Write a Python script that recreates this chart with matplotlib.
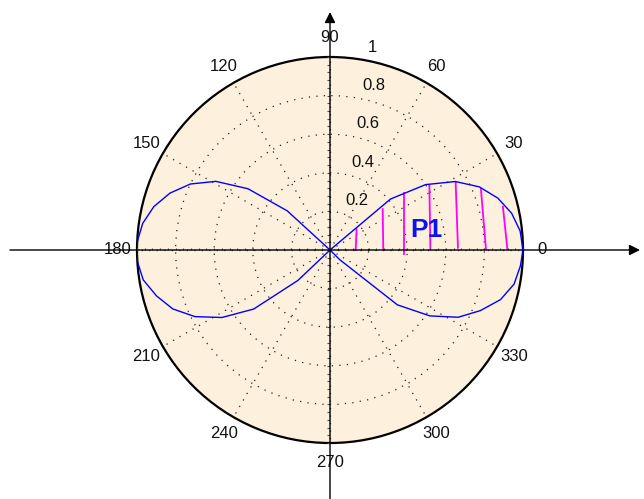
import numpy as np
import matplotlib
matplotlib.use('Agg')
import matplotlib.pyplot as plt
from matplotlib.transforms import offset_copy

plt.rcParams['font.family'] = ['Liberation Sans', 'DejaVu Sans']

# ---- data -------------------------------------------------------------
theta_rad = [0.0, 0.1, 0.2, 0.3, 0.4, 0.5, 0.6, 0.7, 0.8, 0.9,
             1.0, 1.1, 1.2, 1.3, 1.4, 1.5, 1.6, 1.7, 1.8, 1.9,
             2.0, 2.1, 2.2, 2.3, 2.4, 2.5, 2.6, 2.7, 2.8, 2.9,
             3.0, 3.1, 3.2, 3.3, 3.4, 3.5, 3.6, 3.7, 3.8, 3.9,
             4.0, 4.1, 4.2, 4.3, 4.4, 4.5, 4.6, 4.7, 4.8, 4.9,
             5.0, 5.1, 5.2, 5.3, 5.4, 5.5, 5.6, 5.7, 5.8, 5.9,
             6.0, 6.1, 6.2]
r_vals = [1.00, 0.99, 0.96, 0.91, 0.84, 0.74, 0.60, 0.41,
          0, 0, 0, 0, 0, 0, 0, 0, 0, 0, 0, 0, 0, 0, 0, 0,
          0.30, 0.53, 0.69, 0.80, 0.88, 0.94, 0.98, 1.00,
          1.00, 0.98, 0.93, 0.87, 0.78, 0.66, 0.50, 0.23,
          0, 0, 0, 0, 0, 0, 0, 0, 0, 0, 0, 0, 0, 0, 0,
          0.07, 0.45, 0.62, 0.75, 0.84, 0.92, 0.97, 0.99]

# hatch segments of region P1 (cartesian, in units of the outer radius)
hatch_x_top = [0.138, 0.273, 0.385, 0.515, 0.651, 0.782, 0.896]
hatch_y_top = [0.107, 0.212, 0.294, 0.333, 0.351, 0.316, 0.224]
hatch_x_bot = [0.133, 0.276, 0.385, 0.520, 0.663, 0.808, 0.919]
hatch_y_bot = [0.000, 0.005, -0.022, 0.005, 0.012, 0.005, 0.005]

angle_ticks = [0, 30, 60, 90, 120, 150, 180, 210, 240, 270, 300, 330]
radial_ticks = [0.2, 0.4, 0.6, 0.8, 1.0]
radial_labels = ['0.2', '0.4', '0.6', '0.8', '1']
region_label = 'P1'

# ---- figure -----------------------------------------------------------
W, H = 644, 499
fig = plt.figure(figsize=(W / 100, H / 100), dpi=100)
fig.patch.set_facecolor('white')

cx, cy, R = 330, 249, 193
ax = fig.add_axes([(cx - R) / W, (cy - R) / H, 2 * R / W, 2 * R / H],
                  projection='polar')
ax.set_facecolor('#fdf0dc')
ax.set_ylim(0, 1)
ax.set_rgrids(radial_ticks[:-1], labels=[''] * 4)
ax.set_thetagrids(angle_ticks, labels=[''] * len(angle_ticks))
ax.grid(True, color='#222222', linestyle=(0, (1, 5)), linewidth=0.9)
ax.spines['polar'].set_linewidth(1.6)
ax.spines['polar'].set_color('black')
ax.tick_params(axis='both', length=0, pad=0)

# curve (closed)
th = np.array(theta_rad + [theta_rad[0]])
rr = np.array(r_vals + [r_vals[0]])
ax.plot(th, rr, color='#0000ff', linewidth=1.0, zorder=4)

# hatch lines
for xt, yt, xb, yb in zip(hatch_x_top, hatch_y_top, hatch_x_bot, hatch_y_bot):
    ax.plot([np.arctan2(yt, xt), np.arctan2(yb, xb)],
            [np.hypot(xt, yt), np.hypot(xb, yb)],
            color='#ff00ff', linewidth=1.3, zorder=3)

# angle labels
for a in angle_ticks:
    ax.text(np.deg2rad(a), 1.10, str(a), ha='center', va='center',
            fontsize=12, color='#111111', clip_on=False)

# radial labels
lab_tr = offset_copy(ax.transData, fig=fig, x=10.5, y=11.5, units='dots')
for v, s in zip(radial_ticks, radial_labels):
    ax.text(np.deg2rad(82), v, s, ha='left', va='center', fontsize=12,
            color='#111111', transform=lab_tr, clip_on=False)

ax.text(np.deg2rad(11.8), 0.512, region_label, ha='center', va='center',
        fontsize=19, fontweight='bold', color='#0a14f0', zorder=5)

# ---- overlay for axis arrows -----------------------------------------
ov = fig.add_axes([0, 0, 1, 1])
ov.set_xlim(0, W)
ov.set_ylim(0, H)
ov.axis('off')
# fine ruler ticks along the axes inside the circle
tick_pos = np.arange(-R, R + 1, 7.72)
ov.vlines(cx + tick_pos, cy, cy + 2.5, color='#555555', lw=0.8)
ov.hlines(cy + tick_pos, cx - 2.5, cx, color='#555555', lw=0.8)
arrow = dict(arrowstyle='-|>', color='black', lw=1.0, mutation_scale=16,
             shrinkA=0, shrinkB=0)
ov.annotate('', xy=(640, cy), xytext=(10, cy), arrowprops=arrow)
ov.annotate('', xy=(cx, 487), xytext=(cx, 0), arrowprops=arrow)

fig.savefig('out.png', dpi=100, facecolor='white')
